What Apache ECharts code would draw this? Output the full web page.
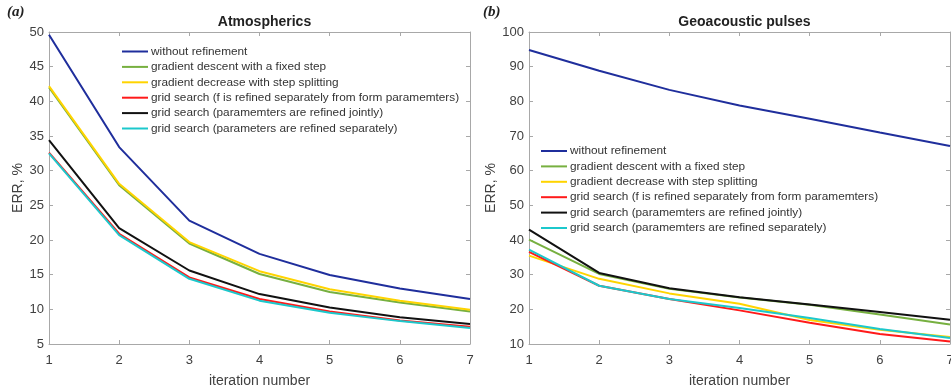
<!DOCTYPE html>
<html>
<head>
<meta charset="utf-8">
<script src="https://cdn.jsdelivr.net/npm/echarts@6/dist/echarts.min.js"></script>
<style>
  html, body { margin: 0; padding: 0; background: #fff; }
  #chart { width: 951px; height: 388px; }
</style>
</head>
<body>
<div id="chart"></div>
<script>
// Iteration numbers shared by both panels
const iterations = [1, 2, 3, 4, 5, 6, 7];

// Panel (a): Atmospherics, ERR %
const atmWithout   = [49.6, 33.4, 22.8, 18.0, 14.95, 13.0, 11.5];
const atmGradFixed = [42.0, 27.9, 19.5, 15.1, 12.5, 11.0, 9.7];
const atmGradSplit = [42.2, 28.1, 19.7, 15.5, 12.9, 11.25, 9.95];
const atmGridF     = [32.6, 20.9, 14.6, 11.5, 9.7, 8.4, 7.5];
const atmGridJoint = [34.4, 21.7, 15.6, 12.2, 10.25, 8.85, 7.9];
const atmGridSep   = [32.5, 20.7, 14.4, 11.25, 9.5, 8.3, 7.3];

// Panel (b): Geoacoustic pulses, ERR %
const geoWithout   = [94.8, 88.8, 83.3, 78.8, 75.0, 71.0, 67.1];
const geoGradFixed = [40.1, 30.2, 25.9, 23.4, 21.3, 18.5, 15.6];
const geoGradSplit = [35.5, 28.8, 24.6, 21.6, 16.9, 14.1, 12.0];
const geoGridF     = [36.6, 26.8, 23.0, 19.7, 16.1, 12.9, 10.7];
const geoGridJoint = [43.0, 30.5, 26.1, 23.5, 21.4, 19.2, 17.0];
const geoGridSep   = [37.2, 26.8, 23.0, 20.4, 17.5, 14.3, 11.7];

const atmNames = [
  'without refinement',
  'gradient descent with a fixed step',
  'gradient decrease with step splitting',
  'grid search (f is refined separately from form paramemters)',
  'grid search (paramemters are refined jointly)',
  'grid search (parameters are refined separately)'
];
const geoNames = [
  'without refinement',
  'gradient descent with a fixed step',
  'gradient decrease with step splitting',
  'grid search (f is refined separately from form paramemters)',
  'grid search (paramemters are refined jointly)',
  'grid search (paramemters are refined separately)'
];

const lineColors = ['#1f2e9c', '#77b040', '#ffd400', '#ff1a1a', '#111111', '#1cc8cc'];

const FONT = "'Liberation Sans', Arial, sans-serif";
const FRAME = '#a8a8a8';
const TEXT = '#404040';

function pairs(ys) { return iterations.map((x, i) => [x, ys[i]]); }

function makeSeries(names, sets, axisIdx) {
  return sets.map((ys, i) => ({
    name: names[i],
    type: 'line',
    xAxisIndex: axisIdx,
    yAxisIndex: axisIdx,
    data: pairs(ys),
    symbol: 'none',
    smooth: false,
    lineStyle: { width: 2, color: lineColors[i] },
    itemStyle: { color: lineColors[i] },
    z: 2 + i
  }));
}

function bottomX(gridIndex) {
  return {
    type: 'value', gridIndex, min: 1, max: 7, interval: 1,
    name: 'iteration number', nameLocation: 'middle', nameGap: 30,
    nameTextStyle: { fontFamily: FONT, fontSize: 14, color: TEXT },
    axisLine: { show: true, lineStyle: { color: FRAME, width: 1 } },
    axisTick: { show: true, inside: true, length: 4, lineStyle: { color: FRAME } },
    axisLabel: { fontFamily: FONT, fontSize: 13, color: TEXT, margin: 10 },
    splitLine: { show: false }
  };
}
function topX(gridIndex) {
  return {
    type: 'value', gridIndex, position: 'top', min: 1, max: 7, interval: 1,
    axisLine: { show: true, lineStyle: { color: FRAME, width: 1 } },
    axisTick: { show: true, inside: true, length: 4, lineStyle: { color: FRAME } },
    axisLabel: { show: false },
    splitLine: { show: false }
  };
}
function leftY(gridIndex, min, max, interval) {
  return {
    type: 'value', gridIndex, min, max, interval,
    name: 'ERR, %', nameLocation: 'middle', nameGap: 21,
    nameTextStyle: { fontFamily: FONT, fontSize: 14, color: TEXT },
    axisLine: { show: true, lineStyle: { color: FRAME, width: 1 } },
    axisTick: { show: true, inside: true, length: 4, lineStyle: { color: FRAME } },
    axisLabel: { fontFamily: FONT, fontSize: 13, color: TEXT, margin: 5 },
    splitLine: { show: false }
  };
}
function rightY(gridIndex, min, max, interval) {
  return {
    type: 'value', gridIndex, position: 'right', min, max, interval,
    axisLine: { show: true, lineStyle: { color: FRAME, width: 1 } },
    axisTick: { show: true, inside: true, length: 4, lineStyle: { color: FRAME } },
    axisLabel: { show: false },
    splitLine: { show: false }
  };
}

function legendAt(names, left, top) {
  return {
    data: names, orient: 'vertical', left, top, padding: 0,
    icon: 'rect', itemWidth: 26, itemHeight: 2, itemGap: 1.4,
    textStyle: { fontFamily: FONT, fontSize: 11.8, color: '#333', lineHeight: 14, padding: [0, 0, 0, -2] },
    selectedMode: false
  };
}

const chart = echarts.init(document.getElementById('chart'), null, { renderer: 'canvas' });

chart.setOption({
  animation: false,
  backgroundColor: '#ffffff',
  title: [
    { text: 'Atmospherics', left: 259.5, top: 10, textAlign: 'center',
      textStyle: { fontFamily: FONT, fontSize: 14, fontWeight: 'bold', color: '#222' } },
    { text: 'Geoacoustic pulses', left: 739.5, top: 10, textAlign: 'center',
      textStyle: { fontFamily: FONT, fontSize: 14, fontWeight: 'bold', color: '#222' } }
  ],
  graphic: [
    { type: 'text', left: 7, top: 5,
      style: { text: '(a)', font: "bold italic 15px 'Liberation Serif', serif", fill: '#222' } },
    { type: 'text', left: 483, top: 5,
      style: { text: '(b)', font: "bold italic 15px 'Liberation Serif', serif", fill: '#222' } }
  ],
  legend: [legendAt(atmNames, 122, 44.5), legendAt(geoNames, 541, 144)],
  grid: [
    { left: 49, top: 32, width: 421, height: 312, outerBoundsMode: 'none' },
    { left: 529, top: 32, width: 421, height: 312, outerBoundsMode: 'none' }
  ],
  xAxis: [bottomX(0), bottomX(1), topX(0), topX(1)],
  yAxis: [leftY(0, 5, 50, 5), leftY(1, 10, 100, 10), rightY(0, 5, 50, 5), rightY(1, 10, 100, 10)],
  series: [
    ...makeSeries(atmNames, [atmWithout, atmGradFixed, atmGradSplit, atmGridF, atmGridJoint, atmGridSep], 0),
    ...makeSeries(geoNames, [geoWithout, geoGradFixed, geoGradSplit, geoGridF, geoGridJoint, geoGridSep], 1)
  ]
});
</script>
</body>
</html>
